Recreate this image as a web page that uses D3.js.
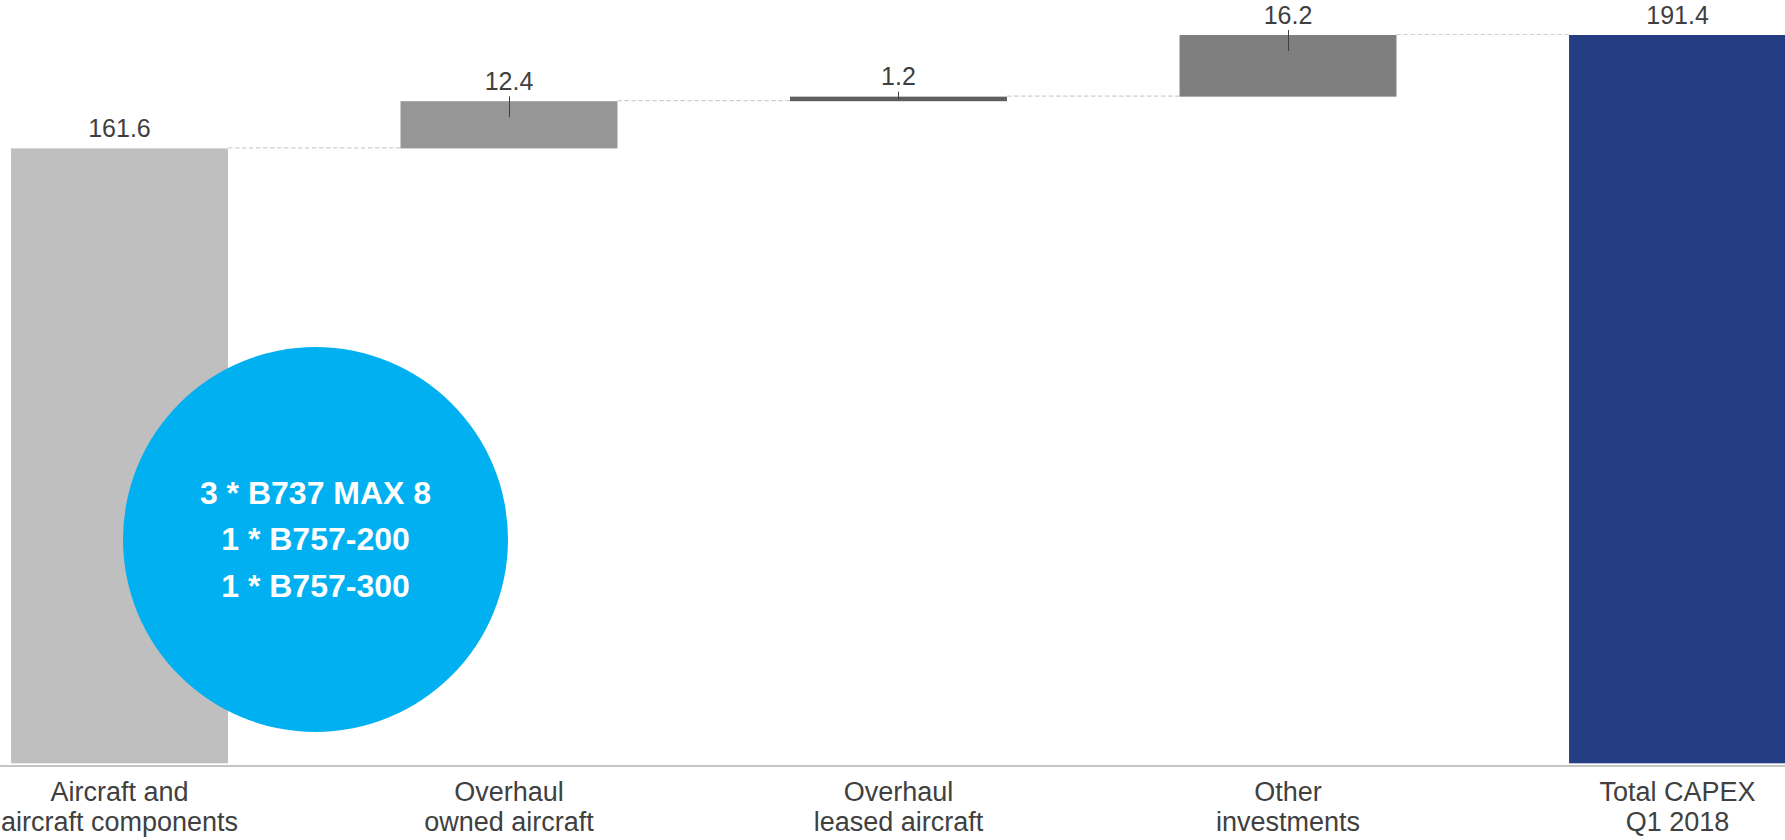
<!DOCTYPE html>
<html>
<head>
<meta charset="utf-8">
<script src="https://cdn.jsdelivr.net/npm/d3@7"></script>
<style>
  html, body { margin: 0; padding: 0; background: #ffffff; }
  svg { display: block; }
  text { font-family: "Liberation Sans", Arial, sans-serif; }
</style>
</head>
<body>
<svg id="chart" width="1785" height="840"></svg>
<script>
// CAPEX bridge, Q1 2018 (EUR m)
const categories = [
  ["Aircraft and", "aircraft components"],
  ["Overhaul", "owned aircraft"],
  ["Overhaul", "leased aircraft"],
  ["Other", "investments"],
  ["Total CAPEX", "Q1 2018"]
];
const values = [161.6, 12.4, 1.2, 16.2, 191.4];
const kinds = ["total", "delta", "delta", "delta", "total"];
const barColors = ["#bfbfbf", "#969696", "#5f5f5f", "#7f7f7f", "#253d83"];
const fleetNotes = ["3 * B737 MAX 8", "1 * B757-200", "1 * B757-300"];

const W = 1785, H = 840;
const baseY = 763.3;

const svg = d3.select("#chart");

// Running start/end for each step of the waterfall
let running = 0;
const steps = values.map((v, i) => {
  let start, end;
  if (kinds[i] === "total") { start = 0; end = v; running = v; }
  else { start = running; end = running + v; running = end; }
  return { i, key: categories[i].join(" "), lines: categories[i], value: v, start, end, kind: kinds[i], color: barColors[i] };
});

const x = d3.scaleBand()
  .domain(steps.map(d => d.key))
  .range([11, 1786])
  .paddingInner(0.443)
  .paddingOuter(0);

const y = d3.scaleLinear()
  .domain([0, 200.6])
  .range([baseY, 0]);

// Dashed connectors between consecutive bars
const links = steps.slice(0, -1).map((d, i) => ({ from: d, to: steps[i + 1], level: d.end }));
svg.append("g").selectAll("line").data(links).join("line")
  .attr("x1", d => x(d.from.key) + x.bandwidth())
  .attr("x2", d => x(d.to.key))
  .attr("y1", d => y(d.level) - 0.5)
  .attr("y2", d => y(d.level) - 0.5)
  .attr("stroke", "#cfcfcf")
  .attr("stroke-width", 1.2)
  .attr("stroke-dasharray", "4.5,2.5");

// Bars
svg.append("g").selectAll("rect").data(steps).join("rect")
  .attr("x", d => x(d.key))
  .attr("width", x.bandwidth())
  .attr("y", d => y(Math.max(d.start, d.end)))
  .attr("height", d => Math.abs(y(d.start) - y(d.end)))
  .attr("fill", d => d.color);

// Baseline
svg.append("line")
  .attr("x1", 0).attr("x2", W)
  .attr("y1", baseY + 2.7).attr("y2", baseY + 2.7)
  .attr("stroke", "#c4c4c4")
  .attr("stroke-width", 2.2);

// Highlight bubble listing delivered aircraft
const bubble = svg.append("g");
bubble.append("circle")
  .attr("cx", 315.5).attr("cy", 539.5).attr("r", 192.5)
  .attr("fill", "#00b0f0");
bubble.selectAll("text").data(fleetNotes).join("text")
  .attr("x", 315.5)
  .attr("y", (d, i) => 504 + i * 46.3)
  .attr("text-anchor", "middle")
  .attr("fill", "#ffffff")
  .attr("font-weight", "bold")
  .attr("font-size", 32)
  .text(d => d);

// Value labels
svg.append("g").selectAll("text").data(steps).join("text")
  .attr("x", d => x(d.key) + x.bandwidth() / 2)
  .attr("y", d => y(Math.max(d.start, d.end)) - 11.5)
  .attr("text-anchor", "middle")
  .attr("fill", "#3f3f3f")
  .attr("font-size", 25)
  .text(d => d3.format(".1f")(d.value));

// Leader ticks on the step bars
svg.append("g").selectAll("line").data(steps.filter(d => d.kind === "delta")).join("line")
  .attr("x1", d => Math.round(x(d.key) + x.bandwidth() / 2) + 0.5)
  .attr("x2", d => Math.round(x(d.key) + x.bandwidth() / 2) + 0.5)
  .attr("y1", d => y(d.end) - 5)
  .attr("y2", d => Math.min(y(d.end) + 16, y(d.start) - 1.5))
  .attr("stroke", "#3f3f3f")
  .attr("stroke-width", 1);

// Category labels
const cat = svg.append("g").selectAll("text").data(steps).join("text")
  .attr("text-anchor", "middle")
  .attr("fill", "#404040")
  .attr("font-size", 27);
cat.selectAll("tspan").data(d => d.lines.map(l => ({ l, cx: x(d.key) + x.bandwidth() / 2 }))).join("tspan")
  .attr("x", d => d.cx)
  .attr("y", (d, i) => 801 + i * 29.5)
  .text(d => d.l);
</script>
</body>
</html>
